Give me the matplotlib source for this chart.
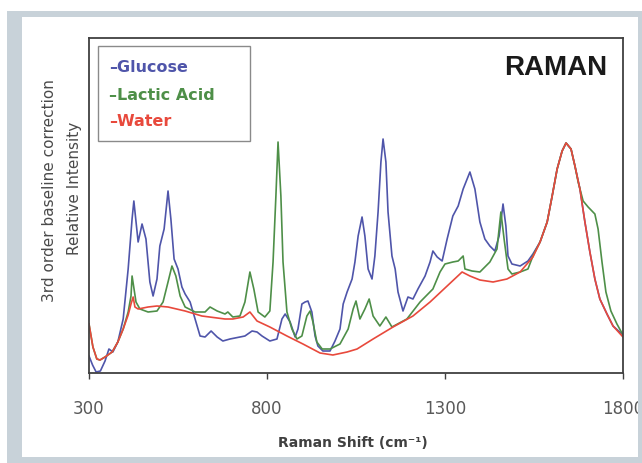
import matplotlib
matplotlib.use('Agg')
import matplotlib.pyplot as plt
from matplotlib.patches import Rectangle

# Raman shift (cm-1) and relative intensity
glucose_x = [300, 310, 320, 332, 345, 356, 367, 381, 396, 410, 421, 426, 438, 449, 460, 471, 480, 491, 499, 511,
             522, 530, 539, 550, 561, 570, 584, 598, 612, 626, 643, 660, 676, 696, 724, 738, 758, 772, 786, 808,
             828, 842, 851, 865, 879, 887, 898, 907, 915, 926, 935, 943, 957, 977, 991, 1005, 1014, 1025, 1039, 1047,
             1056, 1067, 1075, 1084, 1095, 1103, 1112, 1120, 1126, 1134, 1140, 1151, 1160, 1168, 1182, 1196, 1210,
             1224, 1244, 1258, 1266, 1278, 1292, 1306, 1322, 1337, 1351, 1370, 1384, 1398, 1412, 1426, 1440, 1452,
             1463, 1471, 1477, 1488, 1511, 1533, 1547, 1567, 1587, 1601, 1615, 1629, 1640, 1654, 1665, 1679, 1693,
             1707, 1721, 1735, 1755, 1772, 1800]
glucose_y = [17, 8, 1, 2, 12, 24, 21, 31, 54, 104, 154, 172, 131, 149, 134, 91, 77, 94, 127, 144,
             182, 154, 114, 104, 86, 79, 71, 54, 37, 36, 42, 36, 32, 34, 36, 37, 42, 41, 37, 32,
             34, 54, 59, 51, 36, 44, 69, 71, 72, 61, 37, 27, 22, 22, 32, 44, 69, 81, 94, 111,
             137, 156, 137, 104, 94, 117, 161, 211, 234, 211, 161, 117, 104, 81, 62, 76, 74,
             84, 97, 111, 122, 116, 112, 134, 157, 167, 184, 201, 184, 151, 134, 127, 122, 137,
             169, 147, 117, 109, 107, 112, 119, 131, 151, 177, 204, 222, 230, 224, 207, 184, 151,
             121, 94, 74, 59, 47, 38]

lactic_x = [300, 311, 322, 331, 345, 365, 381, 396, 410, 418, 421, 432, 443, 466, 491, 508, 522, 533, 544, 556,
            570, 598, 626, 640, 660, 682, 690, 704, 724, 738, 752, 763, 775, 794, 808, 817, 825, 831, 839, 845,
            856, 870, 884, 898, 912, 921, 929, 940, 955, 977, 1005, 1028, 1042, 1050, 1061, 1075, 1087, 1098, 1117,
            1134, 1151, 1193, 1230, 1266, 1286, 1300, 1322, 1337, 1351, 1356, 1376, 1398, 1426, 1446, 1457, 1466,
            1477, 1488, 1511, 1533, 1547, 1567, 1587, 1601, 1615, 1629, 1640, 1654, 1665, 1674, 1688, 1702, 1721,
            1730, 1741, 1752, 1766, 1783, 1800]
lactic_y = [49, 26, 14, 13, 16, 21, 31, 44, 61, 77, 97, 71, 64, 61, 62, 71, 91, 107, 97, 77,
            66, 61, 61, 66, 62, 59, 61, 56, 57, 71, 101, 84, 61, 56, 62, 111, 177, 231, 177, 111,
            61, 44, 34, 37, 57, 62, 51, 31, 24, 24, 29, 44, 64, 72, 54, 64, 74, 57, 47,
            56, 46, 54, 71, 84, 101, 109, 111, 112, 117, 104, 102, 101, 111, 124, 161, 134,
            104, 99, 101, 104, 117, 131, 151, 177, 204, 222, 230, 224, 207, 191, 172, 166, 159,
            144, 111, 81, 62, 49, 38]

water_x = [300, 311, 322, 331, 345, 365, 381, 396, 410, 418, 424, 429, 438, 466, 491, 522, 570, 617, 682, 704,
           733, 752, 772, 808, 856, 901, 949, 985, 1025, 1053, 1098, 1154, 1210, 1258, 1306, 1348, 1370, 1398,
           1435, 1474, 1511, 1547, 1567, 1587, 1601, 1615, 1629, 1640, 1654, 1665, 1679, 1693, 1707, 1721, 1735,
           1755, 1772, 1800]
water_y = [49, 26, 14, 13, 16, 21, 31, 44, 58, 69, 76, 66, 64, 66, 67, 66, 62, 57, 54, 54,
           56, 61, 52, 46, 37, 29, 20, 18, 21, 24, 34, 46, 57, 71, 87, 101, 97, 93,
           91, 94, 101, 116, 131, 151, 177, 204, 222, 230, 224, 207, 184, 151, 121, 94, 74,
           59, 47, 36]

xticks = [300, 800, 1300, 1800]
names = ['Glucose', 'Lactic Acid', 'Water']
colors = ['#4f55aa', '#4e8f48', '#e8493c']

W, H = 642, 464
fig = plt.figure(figsize=(W / 100, H / 100), dpi=100)
fig.patch.set_facecolor('white')

# grey frame with white panel inside
fig.patches.append(Rectangle((7 / W, 0), 1 - 7 / W, 1 - 12 / H, transform=fig.transFigure,
                             facecolor='#c8d2d9', edgecolor='none', zorder=-2))
fig.patches.append(Rectangle((22 / W, 6 / H), (638 - 22) / W, (458 - 18) / H, transform=fig.transFigure,
                             facecolor='white', edgecolor='none', zorder=-1))

ax = fig.add_axes([89 / W, (H - 374) / H, (623 - 89) / W, (374 - 39) / H])
ax.set_facecolor('white')

ax.plot(glucose_x, glucose_y, color=colors[0], lw=1.2)
ax.plot(lactic_x, lactic_y, color=colors[1], lw=1.2)
ax.plot(water_x, water_y, color=colors[2], lw=1.2)

ax.set_xlim(300, 1800)
ax.set_ylim(0, 335)
ax.set_xticks(xticks)
ax.set_xticklabels([str(t) for t in xticks])
ax.set_yticks([])
ax.tick_params(axis='x', direction='out', length=4, width=1, color='#404040',
               pad=15, labelsize=12, labelcolor='#595959')
for s in ax.spines.values():
    s.set_color('#404040')
    s.set_linewidth(1.3)

# legend box with coloured text entries
ax.add_patch(Rectangle((9 / 534, 1 - 103 / 335), 152 / 534, 95 / 335, transform=ax.transAxes,
                       facecolor='white', edgecolor='#8a8a8a', lw=1, zorder=3))
for i, (n, c) in enumerate(zip(names, colors)):
    ax.text(20 / 534, 1 - (29 + 27 * i) / 335, '\u2013' + n, transform=ax.transAxes,
            color=c, fontsize=11.5, fontweight='bold', va='center', ha='left', zorder=4)

ax.text(607 / W, 1 - 68 / H, 'RAMAN', transform=fig.transFigure, ha='right', va='center',
        fontsize=20, fontweight='bold', family='Liberation Sans', color='#1a1a1a')

fig.text(50 / W, 1 - 191 / H, '3rd order baseline correction', rotation=90, ha='center', va='center',
         fontsize=11, color='#4a4a4a')
fig.text(74 / W, 1 - 188 / H, 'Relative Intensity', rotation=90, ha='center', va='center',
         fontsize=11, color='#4a4a4a')
fig.text(353 / W, 1 - 443 / H, 'Raman Shift (cm\u207b\u00b9)', ha='center', va='center',
         fontsize=10, fontweight='bold', color='#404040')

# right grey strip drawn on top, it clips the last tick label like in the source
fig.patches.append(Rectangle((638 / W, 0), 4 / W, 1 - 12 / H, transform=fig.transFigure,
                             facecolor='#c8d2d9', edgecolor='none', zorder=5))

fig.savefig('out.png', dpi=100)
